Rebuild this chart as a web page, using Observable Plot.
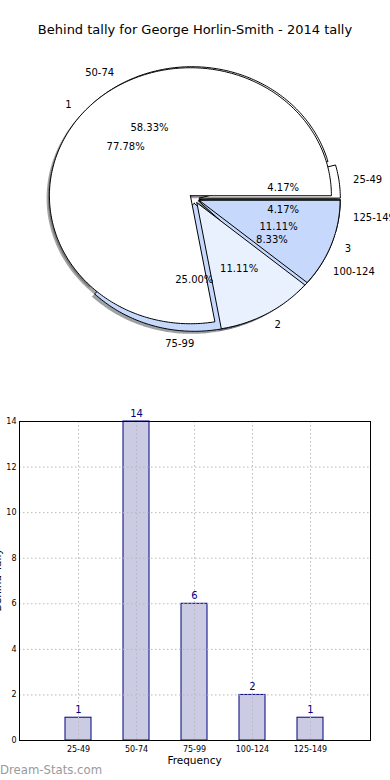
<!DOCTYPE html>
<html><head><meta charset="utf-8">
<script src="https://cdn.jsdelivr.net/npm/d3@7"></script>
<script src="https://cdn.jsdelivr.net/npm/@observablehq/plot@0.6"></script>
<style>
body{margin:0;background:#fff;font-family:"DejaVu Sans",sans-serif;}
#wrap{position:relative;width:390px;height:780px;overflow:hidden;background:#fff;}
.abs{position:absolute;white-space:nowrap;}
</style></head><body><div id="wrap"></div>
<script>
const title = "Behind tally for George Horlin-Smith - 2014 tally";
const bins = ["25-49","50-74","75-99","100-124","125-149"];
const binCounts = [1,14,6,2,1];
const binColors = ["#ffffff","#ffffff","#c6d9fd","#c6d9fd","#c6d9fd"];
const tallyLabels = ["1","2","3"];
const tallyCounts = [7,1,1];
const tallyColors = ["#ffffff","#eaf1fe","#c6d9fd"];
const yTicks = [0,2,4,6,8,10,12,14];
const xLabel = "Frequency";
const yLabel = "Behind Tally";
const watermark = "Dream-Stats.com";

const wrap = document.getElementById("wrap");
function addDiv(text, css){const d=document.createElement("div");d.className="abs";d.textContent=text;Object.assign(d.style,css);wrap.appendChild(d);return d;}

addDiv(title,{left:"0px",top:"21px",width:"390px",height:"18px",lineHeight:"18px",textAlign:"center",fontSize:"13px",color:"#000"});

// ---------- pie ----------
const EXPLODE = 0.036, RX = 141, RY = 128;
function wedges(labels, counts, colors){
  const total = d3.sum(counts); let a = 0;
  return labels.map((l,i)=>{
    const frac = counts[i]/total, a0 = a, a1 = a + frac*360; a = a1;
    const mid = (a0+a1)/2*Math.PI/180;
    const cx = EXPLODE*Math.cos(mid), cy = EXPLODE*Math.sin(mid);
    const pts = [[cx,cy]];
    const n = Math.max(2, Math.ceil(a1-a0));
    for(let k=0;k<=n;k++){const t=(a0+(a1-a0)*k/n)*Math.PI/180; pts.push([cx+Math.cos(t), cy+Math.sin(t)]);}
    pts.push([cx,cy]);
    return {label:l, color:colors[i], pct:(frac*100).toFixed(2)+"%", pts,
      lx: cx+1.1*Math.cos(mid), ly: cy+1.1*Math.sin(mid),
      px: cx+0.6*Math.cos(mid), py: cy+0.6*Math.sin(mid)};
  });
}
const wBins = wedges(bins, binCounts, binColors);
const wTally = wedges(tallyLabels, tallyCounts, tallyColors);
const allW = wBins.concat(wTally);
function shadowColor(c){const r=d3.rgb(c);return d3.rgb(r.r*0.3,r.g*0.3,r.b*0.3).formatHex();}

const PW=390, PH=320, CX=193.8, CY=153.2;
const pieMarks = [];
allW.forEach(w=>pieMarks.push(Plot.line(w.pts.map(p=>[p[0]-0.02,p[1]-0.02]),{x:d=>d[0],y:d=>d[1],fill:shadowColor(w.color),fillOpacity:0.5,stroke:"none"})));
allW.forEach(w=>pieMarks.push(Plot.line(w.pts,{x:d=>d[0],y:d=>d[1],fill:w.color,stroke:"#000",strokeWidth:1,strokeLinejoin:"miter"})));
pieMarks.push(Plot.text(allW.filter(w=>w.lx>0),{x:"lx",y:"ly",text:"label",textAnchor:"start",fontSize:10,fill:"#000"}));
pieMarks.push(Plot.text(allW.filter(w=>w.lx<=0),{x:"lx",y:"ly",text:"label",textAnchor:"end",fontSize:10,fill:"#000"}));
pieMarks.push(Plot.text(allW,{x:"px",y:"py",text:"pct",textAnchor:"middle",fontSize:10,fill:"#000"}));

const pie = Plot.plot({width:PW,height:PH,margin:0,
  style:{fontFamily:"DejaVu Sans",background:"transparent",overflow:"visible"},
  x:{type:"linear",domain:[-CX/RX,(PW-CX)/RX],range:[0,PW],axis:null},
  y:{type:"linear",domain:[-(PH-CY)/RY,CY/RY],range:[PH,0],axis:null},
  marks:pieMarks});
pie.style.position="absolute";pie.style.left="0px";pie.style.top="45px";
wrap.appendChild(pie);

// ---------- bars ----------
const barData = bins.map((b,i)=>({bin:b,count:binCounts[i]}));
const bar = Plot.plot({width:390,height:370,marginTop:21,marginBottom:30,marginLeft:19,marginRight:20,
  style:{fontFamily:"DejaVu Sans",fontSize:"8px",background:"transparent",overflow:"visible",color:"#000"},
  x:{domain:bins,paddingInner:0.55,paddingOuter:0.775,align:0.5,label:null},
  y:{domain:[0,14],label:null},
  marks:[
    Plot.barY(barData,{x:"bin",y:"count",fill:"#cbcbe3",stroke:"#000080",strokeWidth:1}),
    Plot.ruleY(yTicks,{stroke:"#b8b8b8",strokeDasharray:"1.5,2.5",strokeWidth:1}),
    Plot.ruleX(bins,{x:d=>d,stroke:"#b8b8b8",strokeDasharray:"1.5,2.5",strokeWidth:1}),
    Plot.text(barData,{x:"bin",y:"count",text:d=>String(d.count),dy:-8,fill:"#000080",fontSize:10}),
    Plot.axisY(yTicks,{tickSize:0,tickPadding:3,fontSize:8,label:null}),
    Plot.axisX({tickSize:0,tickPadding:6,fontSize:8,label:null}),
    Plot.frame({stroke:"#000",strokeWidth:1})
  ]});
bar.style.position="absolute";bar.style.left="0px";bar.style.top="400px";
wrap.appendChild(bar);

addDiv(xLabel,{left:"0px",width:"389px",textAlign:"center",top:"753px",height:"14px",lineHeight:"14px",fontSize:"10.5px",color:"#000"});
addDiv(yLabel,{left:"-43px",top:"573px",width:"80px",height:"14px",lineHeight:"14px",textAlign:"center",fontSize:"10.5px",color:"#000",transform:"rotate(-90deg)"});
addDiv(watermark,{left:"0px",top:"762px",height:"16px",lineHeight:"16px",fontSize:"11.7px",color:"#9a9a9a"});
</script></body></html>
